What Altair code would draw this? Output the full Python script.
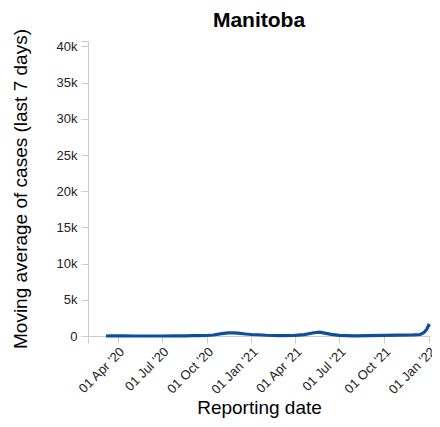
import altair as alt
import pandas as pd

dates = [
    "2020-03-08", "2020-03-20", "2020-04-01", "2020-04-15", "2020-05-01", "2020-06-01",
    "2020-07-01", "2020-08-01", "2020-08-20", "2020-09-01", "2020-09-15", "2020-10-01",
    "2020-10-15", "2020-11-01", "2020-11-15", "2020-11-25", "2020-12-05", "2020-12-20",
    "2021-01-01", "2021-01-15", "2021-02-01", "2021-03-01", "2021-04-01", "2021-04-20",
    "2021-05-10", "2021-05-22", "2021-06-01", "2021-06-15", "2021-07-01", "2021-08-01",
    "2021-09-01", "2021-10-01", "2021-11-01", "2021-12-01", "2021-12-15", "2021-12-22",
    "2021-12-28", "2022-01-01", "2022-01-04",
]
cases = [
    0, 15, 20, 5, 2, 2,
    3, 20, 30, 40, 50, 70,
    140, 320, 430, 440, 390, 280,
    210, 170, 100, 60, 90, 200,
    450, 520, 400, 230, 80, 30,
    50, 80, 120, 150, 210, 450,
    900, 1450, 1300,
]

df = pd.DataFrame({"date": pd.to_datetime(dates), "cases": cases})

x_domain = ["2020-01-31", "2022-01-04"]
# tick positions: domain start (unlabelled) then quarterly dates
x_ticks = [(2020, 1, 31), (2020, 4, 1), (2020, 7, 1), (2020, 10, 1), (2021, 1, 1),
           (2021, 4, 1), (2021, 7, 1), (2021, 10, 1), (2022, 1, 1)]
y_domain = [0, 40750]
y_ticks = [0, 5000, 10000, 15000, 20000, 25000, 30000, 35000, 40000, 40750]

x_tick_values = [alt.DateTime(year=y, month=m, date=d) for (y, m, d) in x_ticks]

chart = (
    alt.Chart(df)
    .mark_line(color="#0d4f9e", strokeWidth=3.2)
    .encode(
        x=alt.X(
            "date:T",
            title="Reporting date",
            scale=alt.Scale(domain=x_domain, nice=False),
            axis=alt.Axis(
                values=x_tick_values,
                labelExpr="time(datum.value) < time(datetime(2020, 2, 15)) ? '' : timeFormat(datum.value, \"%d %b '%y\")",
                labelAngle=-45,
                labelOverlap=False,
                grid=False,
                tickSize=7,
                labelFontSize=13,
                titleFontSize=19,
                titleFontWeight="normal",
                titlePadding=2,
            ),
        ),
        y=alt.Y(
            "cases:Q",
            title="Moving average of cases (last 7 days)",
            scale=alt.Scale(domain=y_domain, nice=False),
            axis=alt.Axis(
                values=y_ticks,
                labelExpr="datum.value > 40500 ? '' : (datum.value == 0 ? '0' : format(datum.value / 1000, 'd') + 'k')",
                grid=False,
                tickSize=7,
                labelPadding=4,
                labelFontSize=13,
                titleFontSize=19,
                titleFontWeight="normal",
                titlePadding=26,
            ),
        ),
    )
    .properties(
        width=342,
        height=295,
        title=alt.TitleParams("Manitoba", fontSize=21, fontWeight="bold", anchor="middle", offset=10, dy=12),
        autosize=alt.AutoSizeParams(type="none"),
        padding={"left": 80, "top": 33, "right": 2, "bottom": 90},
    )
    .configure_view(stroke=None)
    .configure_axis(
        domainColor="#cccccc",
        tickColor="#cccccc",
        labelColor="#222222",
        titleColor="#000000",
        labelFont="Liberation Sans",
        titleFont="Liberation Sans",
    )
    .configure_title(font="Liberation Sans", color="#000000")
)

chart.save("out.html", embed_options={"renderer": "svg", "actions": False})
